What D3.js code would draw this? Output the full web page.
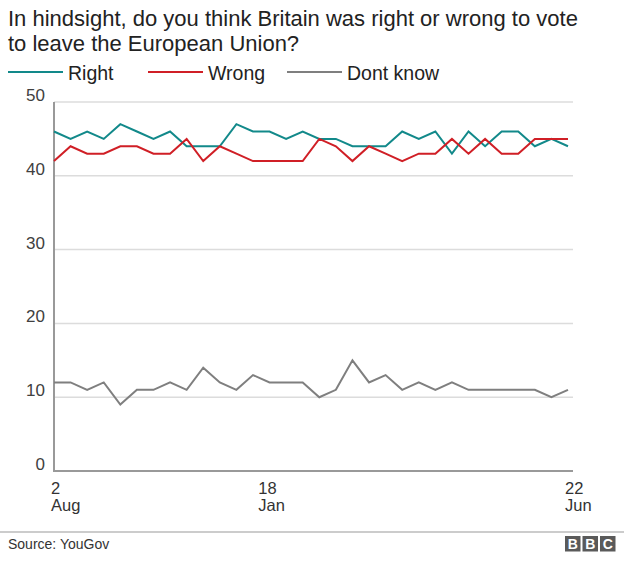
<!DOCTYPE html>
<html>
<head>
<meta charset="utf-8">
<script src="https://cdn.jsdelivr.net/npm/d3@7"></script>
<style>
  html, body { margin: 0; padding: 0; background: #fff; }
  svg { display: block; font-family: "Liberation Sans", Arial, Helvetica, sans-serif; }
</style>
</head>
<body>
<svg id="chart" width="624" height="575"></svg>
<script>
// ---- data (poll index order, 2 Aug 2016 -> 22 Jun 2017) ----
const polls = d3.range(32);
const right = [46,45,46,45,47,46,45,46,44,44,44,47,46,46,45,46,45,45,44,44,44,46,45,46,43,46,44,46,46,44,45,44];
const wrong = [42,44,43,43,44,44,43,43,45,42,44,43,42,42,42,42,45,44,42,44,43,42,43,43,45,43,45,43,43,45,45,45];
const dontKnow = [12,12,11,12,9,11,11,12,11,14,12,11,13,12,12,12,10,11,15,12,13,11,12,11,12,11,11,11,11,11,10,11];
const yTicks = [0,10,20,30,40,50];
const xTickPos = [0, 12.5, 31];
const xTickDay = ["2","18","22"];
const xTickMonth = ["Aug","Jan","Jun"];
const seriesNames = ["Right","Wrong","Dont know"];
const seriesColors = ["#12898a","#d01f26","#7f7f7f"];
const titleLines = ["In hindsight, do you think Britain was right or wrong to vote","to leave the European Union?"];
const sourceText = "Source: YouGov";

const svg = d3.select("#chart");
const x = d3.scaleLinear().domain([0, 31]).range([54, 568]);
const y = d3.scaleLinear().domain([0, 50]).range([471, 102]);
const gridRight = 573;

// title
svg.append("g").selectAll("text").data(titleLines).join("text")
  .attr("x", 8).attr("y", (d, i) => 26 + i * 25)
  .attr("font-size", 22).attr("fill", "#222").text(d => d);

// legend
const legendX = [8, 148, 287];
const lg = svg.append("g").selectAll("g").data(seriesNames).join("g")
  .attr("transform", (d, i) => `translate(${legendX[i]},72)`);
lg.append("line").attr("x1", 0).attr("x2", 55).attr("y1", 0).attr("y2", 0)
  .attr("stroke", (d, i) => seriesColors[i]).attr("stroke-width", 2);
lg.append("text").attr("x", 60).attr("y", 8).attr("font-size", 19.5).attr("fill", "#222").text(d => d);

// gridlines
svg.append("g").selectAll("line").data(yTicks.filter(t => t > 0)).join("line")
  .attr("x1", x(0)).attr("x2", gridRight).attr("y1", d => y(d)).attr("y2", d => y(d))
  .attr("stroke", "#dcdcdc").attr("stroke-width", 1.5);

// y labels
svg.append("g").selectAll("text").data(yTicks).join("text")
  .attr("x", 45).attr("y", d => y(d) - 1).attr("text-anchor", "end")
  .attr("font-size", 17).attr("fill", "#404040").text(d => d);

// axes lines
svg.append("line").attr("x1", x(0)).attr("x2", x(0)).attr("y1", y(50)).attr("y2", y(0) + 1)
  .attr("stroke", "#999").attr("stroke-width", 2);
svg.append("line").attr("x1", x(0)).attr("x2", gridRight).attr("y1", y(0)).attr("y2", y(0))
  .attr("stroke", "#999").attr("stroke-width", 2);

// x labels (day above month)
const xg = svg.append("g");
xg.selectAll("text.day").data(xTickPos).join("text").attr("class", "day")
  .attr("x", d => x(d) - 3).attr("y", 494).attr("font-size", 16.5).attr("fill", "#333")
  .text((d, i) => xTickDay[i]);
xg.selectAll("text.month").data(xTickPos).join("text").attr("class", "month")
  .attr("x", d => x(d) - 3).attr("y", 511).attr("font-size", 16.5).attr("fill", "#333")
  .text((d, i) => xTickMonth[i]);

// lines
const line = d3.line().x((d, i) => x(polls[i])).y(d => y(d));
[right, wrong, dontKnow].forEach((s, k) => {
  svg.append("path").datum(s).attr("d", line).attr("fill", "none")
    .attr("stroke", seriesColors[k]).attr("stroke-width", 2).attr("stroke-linejoin", "miter");
});

// footer
svg.append("line").attr("x1", 0).attr("x2", 624).attr("y1", 532).attr("y2", 532)
  .attr("stroke", "#999").attr("stroke-width", 1);
svg.append("text").attr("x", 8).attr("y", 549).attr("font-size", 14).attr("fill", "#333").text(sourceText);
const bbc = svg.append("g").selectAll("g").data(["B","B","C"]).join("g")
  .attr("transform", (d, i) => `translate(${565 + i * 17.5},536)`);
bbc.append("rect").attr("width", 15.5).attr("height", 15.5).attr("fill", "#5a5a5a");
bbc.append("text").attr("x", 7.75).attr("y", 13).attr("text-anchor", "middle")
  .attr("font-size", 14).attr("font-weight", "bold").attr("fill", "#fff").text(d => d);
</script>
</body>
</html>
